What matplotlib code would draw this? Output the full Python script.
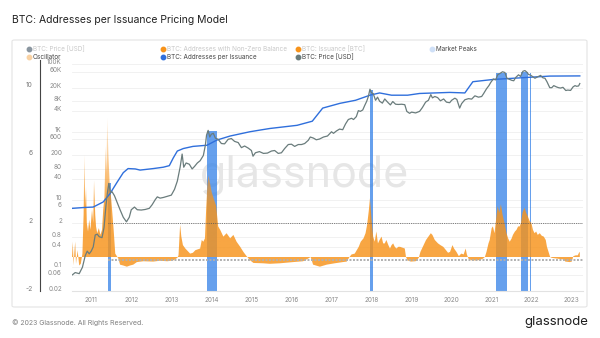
import numpy as np
import matplotlib
matplotlib.use('Agg')
import matplotlib.pyplot as plt
from matplotlib.colors import to_rgb
from matplotlib.lines import Line2D
from matplotlib.patches import FancyBboxPatch

plt.rcParams['font.family'] = ['Inter', 'DejaVu Sans']

# --- data (decimal years) ---
price_years = [2010.53, 2010.60, 2010.70, 2010.78, 2010.85, 2010.90, 2010.95, 2011.00, 2011.05, 2011.10,
               2011.15, 2011.20, 2011.27, 2011.32, 2011.37, 2011.41, 2011.44, 2011.48, 2011.52, 2011.58,
               2011.65, 2011.72, 2011.80, 2011.88, 2011.95, 2012.00, 2012.08, 2012.15, 2012.25, 2012.35,
               2012.45, 2012.52, 2012.60, 2012.65, 2012.72, 2012.80, 2012.90, 2013.00, 2013.08, 2013.15,
               2013.22, 2013.27, 2013.31, 2013.37, 2013.45, 2013.52, 2013.58, 2013.65, 2013.72, 2013.80,
               2013.85, 2013.88, 2013.92, 2013.96, 2014.00, 2014.05, 2014.10, 2014.17, 2014.25, 2014.33,
               2014.42, 2014.50, 2014.58, 2014.67, 2014.75, 2014.83, 2014.92, 2015.00, 2015.04, 2015.10,
               2015.20, 2015.30, 2015.40, 2015.50, 2015.58, 2015.67, 2015.75, 2015.83, 2015.92, 2016.00,
               2016.08, 2016.17, 2016.25, 2016.33, 2016.42, 2016.47, 2016.55, 2016.62, 2016.70, 2016.80,
               2016.90, 2017.00, 2017.05, 2017.12, 2017.20, 2017.28, 2017.35, 2017.42, 2017.50, 2017.55,
               2017.62, 2017.67, 2017.72, 2017.78, 2017.83, 2017.88, 2017.92, 2017.96, 2018.00, 2018.04,
               2018.10, 2018.15, 2018.20, 2018.27, 2018.33, 2018.40, 2018.47, 2018.53, 2018.60, 2018.67,
               2018.75, 2018.83, 2018.88, 2018.95, 2019.00, 2019.10, 2019.20, 2019.27, 2019.35, 2019.42,
               2019.48, 2019.52, 2019.58, 2019.65, 2019.72, 2019.80, 2019.87, 2019.95, 2020.00, 2020.08,
               2020.13, 2020.20, 2020.25, 2020.33, 2020.42, 2020.50, 2020.58, 2020.67, 2020.75, 2020.80,
               2020.87, 2020.93, 2020.98, 2021.04, 2021.10, 2021.15, 2021.20, 2021.27, 2021.33, 2021.38,
               2021.45, 2021.50, 2021.55, 2021.60, 2021.67, 2021.72, 2021.78, 2021.83, 2021.88, 2021.92,
               2021.97, 2022.03, 2022.08, 2022.15, 2022.22, 2022.28, 2022.33, 2022.38, 2022.45, 2022.50,
               2022.55, 2022.62, 2022.67, 2022.72, 2022.78, 2022.85, 2022.90, 2022.97, 2023.03, 2023.08,
               2023.12, 2023.17, 2023.20]
price_usd = [0.06, 0.07, 0.065, 0.1, 0.22, 0.3, 0.25, 0.3, 0.4, 0.9,
             0.95, 0.8, 0.75, 1.5, 7, 18, 30, 16, 17, 13,
             8, 5, 3, 2.2, 3, 5, 6, 5, 4.9, 5.1,
             5.5, 7, 10, 12, 11, 11.5, 12.5, 13.5, 20, 35,
             90, 220, 90, 120, 110, 80, 95, 120, 140, 200,
             400, 800, 1100, 700, 850, 900, 650, 600, 450, 440,
             600, 630, 520, 480, 340, 380, 330, 280, 190, 240,
             260, 230, 235, 270, 280, 230, 240, 320, 420, 430,
             370, 420, 420, 450, 560, 700, 650, 580, 610, 700,
             750, 1000, 900, 1050, 1200, 1150, 1700, 2300, 2500, 2300,
             2800, 4200, 4000, 4400, 6000, 8000, 11000, 18000, 14000, 13500,
             8500, 10500, 8000, 7000, 9300, 7500, 6200, 7800, 6500, 6400,
             6500, 6300, 4000, 3500, 3800, 3600, 4000, 5200, 7500, 8500,
             12500, 10000, 11000, 10200, 8200, 9300, 7500, 7200, 8500, 9800,
             9000, 5000, 6800, 8800, 9500, 9200, 11500, 10500, 11000, 13500,
             18500, 23000, 29000, 36000, 34000, 48000, 52000, 59000, 56000, 38000,
             35000, 33000, 32000, 40000, 48000, 43000, 61000, 64000, 57000, 49000,
             47000, 42000, 38000, 42000, 46000, 39000, 38000, 30000, 20000, 20000,
             23000, 21000, 20000, 19500, 20500, 16500, 17000, 16600, 21000, 23000,
             22000, 22500, 26500]

api_years = [2010.53, 2010.80, 2011.05, 2011.30, 2011.47, 2011.65, 2011.80, 2011.92, 2012.10, 2012.22,
             2012.55, 2012.80, 2012.95, 2013.05, 2013.15, 2013.30, 2013.54, 2013.89, 2014.14, 2014.47,
             2014.96, 2015.21, 2015.46, 2016.14, 2016.52, 2016.78, 2017.21, 2017.60, 2017.96, 2018.20,
             2018.50, 2018.90, 2019.20, 2019.95, 2020.33, 2020.53, 2021.04, 2021.63, 2022.45, 2023.20]
api_usd = [5.5, 5.8, 6.0, 8.5, 15, 33, 62, 82, 80, 74,
           82, 90, 100, 170, 270, 320, 370, 400, 570, 750,
           1000, 1120, 1250, 1550, 2050, 5000, 6900, 8500, 12000, 14000,
           12000, 12000, 13500, 14500, 14000, 30000, 35000, 38500, 44000, 44500]

osc_years = [2010.52, 2010.54, 2010.56, 2010.58, 2010.60, 2010.62, 2010.66, 2010.70, 2010.74, 2010.78,
             2010.81, 2010.83, 2010.85, 2010.87, 2010.89, 2010.92, 2010.95, 2010.98, 2011.02, 2011.05,
             2011.07, 2011.10, 2011.12, 2011.15, 2011.19, 2011.23, 2011.27, 2011.30, 2011.33, 2011.36,
             2011.38, 2011.40, 2011.43, 2011.46, 2011.50, 2011.54, 2011.56, 2011.60, 2011.64, 2011.68,
             2011.72, 2011.80, 2011.89, 2011.97, 2012.05, 2012.14, 2012.30, 2012.55, 2012.72, 2012.90,
             2013.05, 2013.15, 2013.18, 2013.22, 2013.25, 2013.29, 2013.35, 2013.39, 2013.47, 2013.54,
             2013.60, 2013.66, 2013.72, 2013.76, 2013.80, 2013.84, 2013.87, 2013.90, 2013.93, 2013.97,
             2014.01, 2014.05, 2014.12, 2014.17, 2014.22, 2014.30, 2014.38, 2014.47, 2014.55, 2014.63,
             2014.72, 2014.80, 2014.88, 2014.97, 2015.05, 2015.29, 2015.46, 2015.71, 2016.04, 2016.29,
             2016.41, 2016.48, 2016.54, 2016.71, 2016.88, 2017.08, 2017.28, 2017.38, 2017.45, 2017.50,
             2017.58, 2017.63, 2017.68, 2017.73, 2017.80, 2017.85, 2017.89, 2017.93, 2017.96, 2018.00,
             2018.04, 2018.08, 2018.12, 2018.16, 2018.20, 2018.25, 2018.29, 2018.33, 2018.37, 2018.42,
             2018.46, 2018.50, 2018.54, 2018.58, 2018.62, 2018.67, 2018.71, 2018.77, 2018.83, 2018.86,
             2018.90, 2018.98, 2019.10, 2019.18, 2019.22, 2019.30, 2019.36, 2019.42, 2019.48, 2019.52,
             2019.58, 2019.66, 2019.72, 2019.79, 2019.86, 2019.91, 2019.96, 2020.02, 2020.06, 2020.12,
             2020.18, 2020.24, 2020.30, 2020.35, 2020.38, 2020.42, 2020.50, 2020.60, 2020.70, 2020.78,
             2020.83, 2020.87, 2020.92, 2020.95, 2021.00, 2021.03, 2021.07, 2021.11, 2021.15, 2021.19,
             2021.23, 2021.27, 2021.32, 2021.37, 2021.41, 2021.45, 2021.50, 2021.53, 2021.58, 2021.62,
             2021.66, 2021.70, 2021.73, 2021.77, 2021.82, 2021.86, 2021.90, 2021.95, 2021.99, 2022.03,
             2022.07, 2022.11, 2022.15, 2022.20, 2022.25, 2022.30, 2022.35, 2022.38, 2022.42, 2022.46,
             2022.50, 2022.65, 2022.80, 2022.84, 2022.95, 2023.00, 2023.04, 2023.10, 2023.15, 2023.18,
             2023.20]
osc_vals = [0.0, 0.9, -0.5, 0.3, 0.9, -0.4, 0.4, -0.5, -0.4, 0.2,
            2.5, 6.0, 3.0, 4.1, 2.0, 1.5, 2.2, 1.6, 2.8, 2.0,
            4.5, 2.5, 1.8, 1.4, 1.7, 1.3, 1.6, 2.8, 3.5, 6.5,
            5.0, 8.2, 6.0, 4.3, 3.4, 2.2, 1.6, 0.2, 0.05, -0.1,
            -0.45, -0.5, -0.57, -0.5, -0.45, -0.3, -0.25, -0.27, -0.22, -0.25,
            -0.2, -0.05, 0.1, 1.9, 1.2, 0.7, 0.5, 0.4, 0.2, 0.25,
            0.4, 0.45, 0.5, 1.0, 0.9, 1.1, 2.8, 4.2, 4.8, 4.3,
            3.8, 3.5, 3.0, 1.8, 1.6, 1.2, 1.4, 1.1, 1.3, 0.9,
            0.6, 0.3, 0.05, -0.2, -0.35, -0.37, -0.4, -0.37, -0.3, -0.25,
            -0.1, 0.0, -0.45, -0.57, -0.45, -0.37, -0.3, -0.27, 0.0, 0.15,
            0.2, 0.4, 0.6, 0.9, 1.1, 1.4, 1.9, 2.7, 3.45, 2.2,
            1.2, 0.9, 1.5, 0.8, 1.0, 1.2, 0.8, 0.8, 1.0, 0.7,
            0.5, 0.7, 0.8, 0.6, 0.5, 0.6, 0.6, 0.55, 0.5, 0.0,
            -0.2, -0.27, -0.25, -0.05, 0.3, 0.7, 1.0, 1.2, 1.4, 1.3,
            1.0, 0.8, 0.7, 0.6, 0.4, 0.25, 0.3, 0.7, 0.5, 0.3,
            0.05, 0.2, 0.15, 0.5, 0.15, -0.1, -0.2, -0.2, -0.18, -0.1,
            0.0, 0.3, 0.8, 1.0, 1.7, 1.8, 1.4, 2.2, 3.0, 2.6,
            3.1, 2.5, 2.0, 1.4, 1.1, 0.9, 1.1, 1.3, 1.5, 1.6,
            1.8, 1.8, 2.0, 2.6, 2.9, 2.6, 2.4, 2.1, 2.0, 1.6,
            1.4, 1.5, 1.3, 1.4, 1.25, 1.2, 1.0, 0.6, 0.3, 0.0,
            -0.05, -0.1, -0.15, -0.27, -0.3, -0.27, 0.05, 0.1, 0.1, 0.25,
            0.3]

# market peak windows: start, end, price reached
peak_start = [2011.43, 2013.90, 2017.95, 2021.12, 2021.74, 2021.965]
peak_end = [2011.50, 2014.13, 2018.04, 2021.37, 2021.91, 2021.985]
peak_top = [30, 1050, 17500, 55000, 60000, 55000]

upper_band = 2.0
lower_band = -0.2
band_from = 2011.42

years = list(range(2011, 2024))
price_ticks = [100000, 60000, 20000, 8000, 4000, 1000, 600, 200, 80, 40, 10, 6, 2, 0.8, 0.4, 0.1, 0.06, 0.02]
price_labels = ['100K', '60K', '20K', '8K', '4K', '1K', '600', '200', '80', '40', '10', '6', '2',
                '0.8', '0.4', '0.1', '0.06', '0.02']
osc_ticks = [-2, 2, 6, 10]

W, H = 600, 338
XMIN, XMAX = 2010.52, 2023.28
OSC_TOP = 11.59

fig = plt.figure(figsize=(W / 100, H / 100), dpi=100)


def fx(px):
    return px / W


def fy(py):
    return 1 - py / H


# chart panel
fig.add_artist(FancyBboxPatch((fx(12), fy(307)), fx(587) - fx(12), fy(40) - fy(307),
                              boxstyle='round,pad=0,rounding_size=0.004', transform=fig.transFigure,
                              facecolor='white', edgecolor='#e4e4e4', linewidth=0.8, zorder=0))

rect = [fx(72), fy(291), fx(583) - fx(72), fy(60) - fy(291)]
ax_band = fig.add_axes(rect)
ax_osc = fig.add_axes(rect, sharex=ax_band)
ax_line = fig.add_axes(rect, sharex=ax_band)
for a in (ax_band, ax_osc, ax_line):
    a.patch.set_visible(False)

for a in (ax_band, ax_line):
    a.set_yscale('log')
    a.set_ylim(0.02, 10 ** (5 + 4 / 33.9))
ax_osc.set_ylim(-2, OSC_TOP)
ax_band.set_xlim(XMIN, XMAX)

for a in (ax_band, ax_osc, ax_line):
    for s in a.spines.values():
        s.set_visible(False)
ax_band.spines['bottom'].set_visible(True)
ax_band.spines['bottom'].set_color('#e2e2e2')
ax_band.spines['bottom'].set_linewidth(0.8)

# grid + bands (bottom layer)
for p in price_ticks:
    ax_band.axhline(p, color='#efefef', linewidth=0.6, zorder=0)
ax_band.set_yticks([])
ax_band.minorticks_off()
ax_band.set_xticks(years, [str(y) for y in years])
ax_band.tick_params(axis='x', length=0, pad=4, labelsize=4.6, labelcolor='#8a8a8a')
for s, e, top in zip(peak_start, peak_end, peak_top):
    ax_band.fill_between([s, e], 0.02, top, color='#3b86e8', alpha=0.78, linewidth=0, zorder=2)
ax_band.text(0.455, 0.50, 'glassnode', transform=ax_band.transAxes, ha='center', va='center',
             fontsize=31, color='#e6e6e6', zorder=1)

# oscillator (middle layer), fading towards high values
fill = ax_osc.fill_between(osc_years, osc_vals, 0, facecolor='none', edgecolor='none')
grad_v = np.linspace(-2, OSC_TOP, 400)
grad = np.zeros((400, 1, 4))
grad[..., :3] = to_rgb('#f7931a')
grad[:, 0, 3] = np.clip(0.82 - (grad_v - 3.0) / 5.5 * 0.72, 0.1, 0.82)
im = ax_osc.imshow(grad, extent=[XMIN, XMAX, -2, OSC_TOP], origin='lower', aspect='auto',
                   interpolation='bilinear', zorder=2)
im.set_clip_path(fill.get_paths()[0], ax_osc.transData)
ax_osc.hlines(upper_band, band_from, XMAX, colors='#555555', linestyles=(0, (1, 1.2)), linewidth=0.6, zorder=3)
ax_osc.hlines(lower_band, band_from, XMAX, colors='#b0b0b0', linestyles=(0, (1, 0.8)), linewidth=1.4, zorder=3)
ax_osc.set_xlim(XMIN, XMAX)
ax_osc.set_ylim(-2, OSC_TOP)
ax_osc.spines['left'].set_visible(True)
ax_osc.spines['left'].set_position(('outward', 32 * 0.72))
ax_osc.spines['left'].set_color('#444444')
ax_osc.spines['left'].set_linewidth(0.8)
ax_osc.set_yticks(osc_ticks, [str(v) for v in osc_ticks])
ax_osc.tick_params(axis='y', length=0, pad=5.5, labelsize=4.8, labelcolor='#7a7a7a')
ax_osc.tick_params(axis='x', bottom=False, labelbottom=False)
plt.setp(ax_osc.get_yticklabels(), va='baseline')

# lines (top layer)
ax_line.plot(api_years, api_usd, color='#2f6fdc', linewidth=1.0, zorder=3)
ax_line.plot(price_years, price_usd, color='#6a7c7c', linewidth=0.9, zorder=4)
ax_line.set_xlim(XMIN, XMAX)
ax_line.set_yticks(price_ticks, price_labels)
ax_line.minorticks_off()
ax_line.tick_params(axis='y', length=0, pad=7.2, labelsize=4.6, labelcolor='#8a8a8a')
ax_line.tick_params(axis='x', bottom=False, labelbottom=False)
plt.setp(ax_line.get_yticklabels(), va='baseline')

# title
fig.text(fx(12), fy(20), 'BTC: Addresses per Issuance Pricing Model', ha='left', va='center',
         fontsize=7.5, color='#222222')

# legend
legend_items = [
    (29, 49, '#8a96a0', 'BTC: Price [USD]', '#c8c8c8'),
    (163, 49, '#f7931a', 'BTC: Addresses with Non-Zero Balance', '#c8c8c8'),
    (298, 49, '#f7931a', 'BTC: Issuance [BTC]', '#c8c8c8'),
    (432, 49, '#cfe0f7', 'Market Peaks', '#444444'),
    (29, 57, '#f9d2a4', 'Oscillator', '#444444'),
    (163, 57, '#2f6fdc', 'BTC: Addresses per Issuance', '#444444'),
    (298, 57, '#6a7c7c', 'BTC: Price [USD]', '#444444'),
]
for x, y, dot, label, tc in legend_items:
    fig.add_artist(Line2D([fx(x)], [fy(y)], marker='o', markersize=3.2, color=dot,
                          linestyle='none', transform=fig.transFigure))
    fig.text(fx(x + 4), fy(y), label, ha='left', va='center', fontsize=4.6, color=tc)

# footer
fig.text(fx(12), fy(323), '\u00a9 2023 Glassnode. All Rights Reserved.', ha='left', va='center',
         fontsize=5.0, color='#808080')
fig.text(fx(588), fy(322), 'glassnode', ha='right', va='center', fontsize=9.5, color='#1e1e1e')

fig.savefig('out.png', dpi=100)
